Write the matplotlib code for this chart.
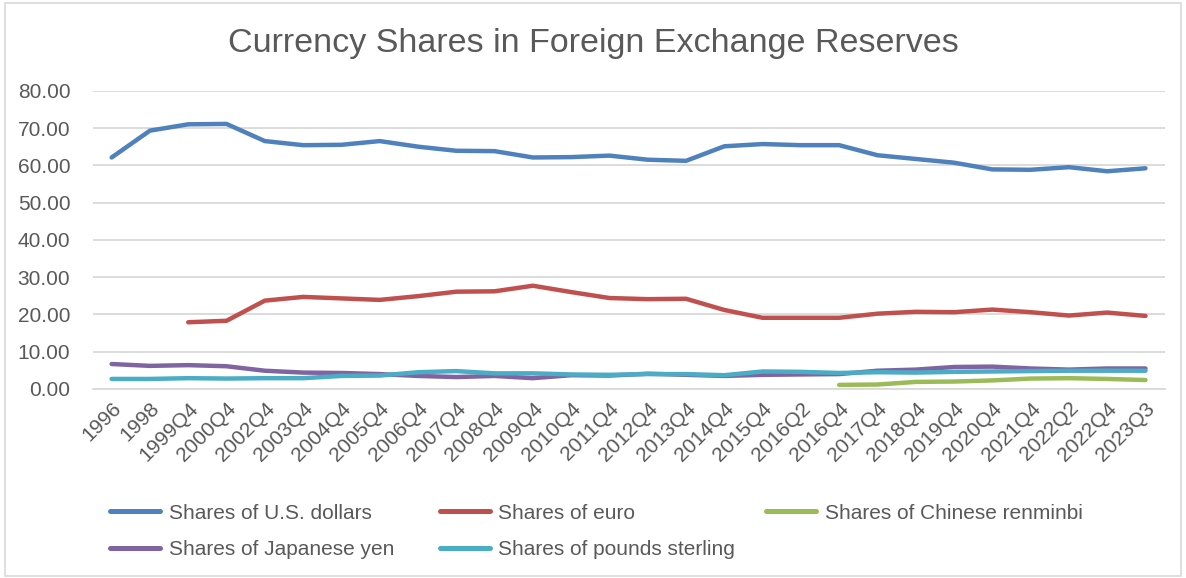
import numpy as np
import matplotlib
matplotlib.use("Agg")
from matplotlib import pyplot as plt
from matplotlib.patches import Rectangle

plt.rcParams['font.family'] = ['Liberation Sans', 'DejaVu Sans']

# category labels along the x axis
periods = ["1996", "1998", "1999Q4", "2000Q4", "2002Q4", "2003Q4", "2004Q4",
           "2005Q4", "2006Q4", "2007Q4", "2008Q4", "2009Q4", "2010Q4", "2011Q4",
           "2012Q4", "2013Q4", "2014Q4", "2015Q4", "2016Q2", "2016Q4", "2017Q4",
           "2018Q4", "2019Q4", "2020Q4", "2021Q4", "2022Q2", "2022Q4", "2023Q3"]

nan = np.nan
usd = [62.1, 69.3, 71.0, 71.1, 66.5, 65.4, 65.5, 66.5, 65.0, 63.9, 63.8, 62.1,
       62.2, 62.6, 61.5, 61.2, 65.1, 65.7, 65.4, 65.4, 62.7, 61.7, 60.7, 58.9,
       58.8, 59.5, 58.4, 59.2]
eur = [nan, nan, 17.9, 18.3, 23.7, 24.7, 24.3, 23.9, 24.9, 26.1, 26.2, 27.7,
       26.0, 24.4, 24.1, 24.2, 21.2, 19.1, 19.1, 19.1, 20.2, 20.7, 20.6, 21.3,
       20.6, 19.7, 20.5, 19.6]
cny = [nan] * 19 + [1.1, 1.2, 1.9, 2.0, 2.3, 2.8, 2.9, 2.7, 2.4]
jpy = [6.7, 6.2, 6.4, 6.1, 4.9, 4.4, 4.3, 4.0, 3.5, 3.2, 3.5, 2.9, 3.7, 3.6,
       4.1, 3.8, 3.5, 3.8, 3.9, 4.0, 4.9, 5.2, 5.9, 6.0, 5.5, 5.2, 5.5, 5.5]
gbp = [2.7, 2.7, 2.9, 2.8, 2.9, 2.9, 3.5, 3.6, 4.5, 4.8, 4.2, 4.2, 3.9, 3.8,
       4.0, 4.0, 3.7, 4.7, 4.6, 4.3, 4.5, 4.4, 4.6, 4.7, 4.8, 4.9, 4.9, 4.9]

series = [
        ("Shares of U.S. dollars", usd, "#4F81BD"),
        ("Shares of euro", eur, "#C0504D"),
        ("Shares of Chinese renminbi", cny, "#9BBB59"),
        ("Shares of Japanese yen", jpy, "#8064A2"),
        ("Shares of pounds sterling", gbp, "#4BACC6"),
]

txt = "#595959"
fs = 15
fig = plt.figure(figsize=(11.86, 5.78), dpi=100)
ax = fig.add_axes([0.078, 0.327, 0.904, 0.516])

x = np.arange(len(periods))
handles = {}
for name, vals, col in series:
        h, = ax.plot(x, vals, color=col, lw=3.2, solid_capstyle='round',
                     solid_joinstyle='round', label=name)
        handles[name] = h

ax.set_xlim(-0.5, len(periods) - 0.5)
ax.set_ylim(0, 80)
ax.set_yticks(np.arange(0, 81, 10))
ax.set_yticklabels([f"{v:.2f}" for v in np.arange(0, 81, 10)])
ax.set_xticks(x)
ax.set_xticklabels(periods, rotation=45, ha='right', rotation_mode='anchor')
ax.tick_params(axis='both', length=0, colors=txt, labelsize=fs)
ax.tick_params(axis='x', pad=7)
ax.tick_params(axis='y', pad=16)
ax.grid(axis='y', color='#d9d9d9', lw=1.3)
ax.set_axisbelow(True)
for s in ['top', 'right', 'left']:
        ax.spines[s].set_visible(False)
ax.spines['bottom'].set_color('#d9d9d9')
ax.spines['bottom'].set_linewidth(1.3)

fig.text(0.5, 0.924, "Currency Shares in Foreign Exchange Reserves",
         ha='center', va='center', fontsize=24.5, color=txt)

# legend columns, placed like the excel layout
cols = [(["Shares of U.S. dollars", "Shares of Japanese yen"], 0.086),
        (["Shares of euro", "Shares of pounds sterling"], 0.364),
        (["Shares of Chinese renminbi"], 0.639)]
for names, xpos in cols:
        leg = fig.legend([handles[n] for n in names], names, loc='upper left',
                         bbox_to_anchor=(xpos, 0.143), bbox_transform=fig.transFigure,
                         frameon=False, fontsize=fs, handlelength=2.4,
                         handletextpad=0.4, labelspacing=0.85, borderaxespad=0)
        for t in leg.get_texts():
                t.set_color(txt)
        for l in leg.get_lines():
                l.set_linewidth(3.6)

fig.patches.append(Rectangle((0.004, 0.004), 0.992, 0.99, transform=fig.transFigure,
                             fill=False, edgecolor='#d9d9d9', lw=1.2))

fig.savefig("out.png", dpi=100)
